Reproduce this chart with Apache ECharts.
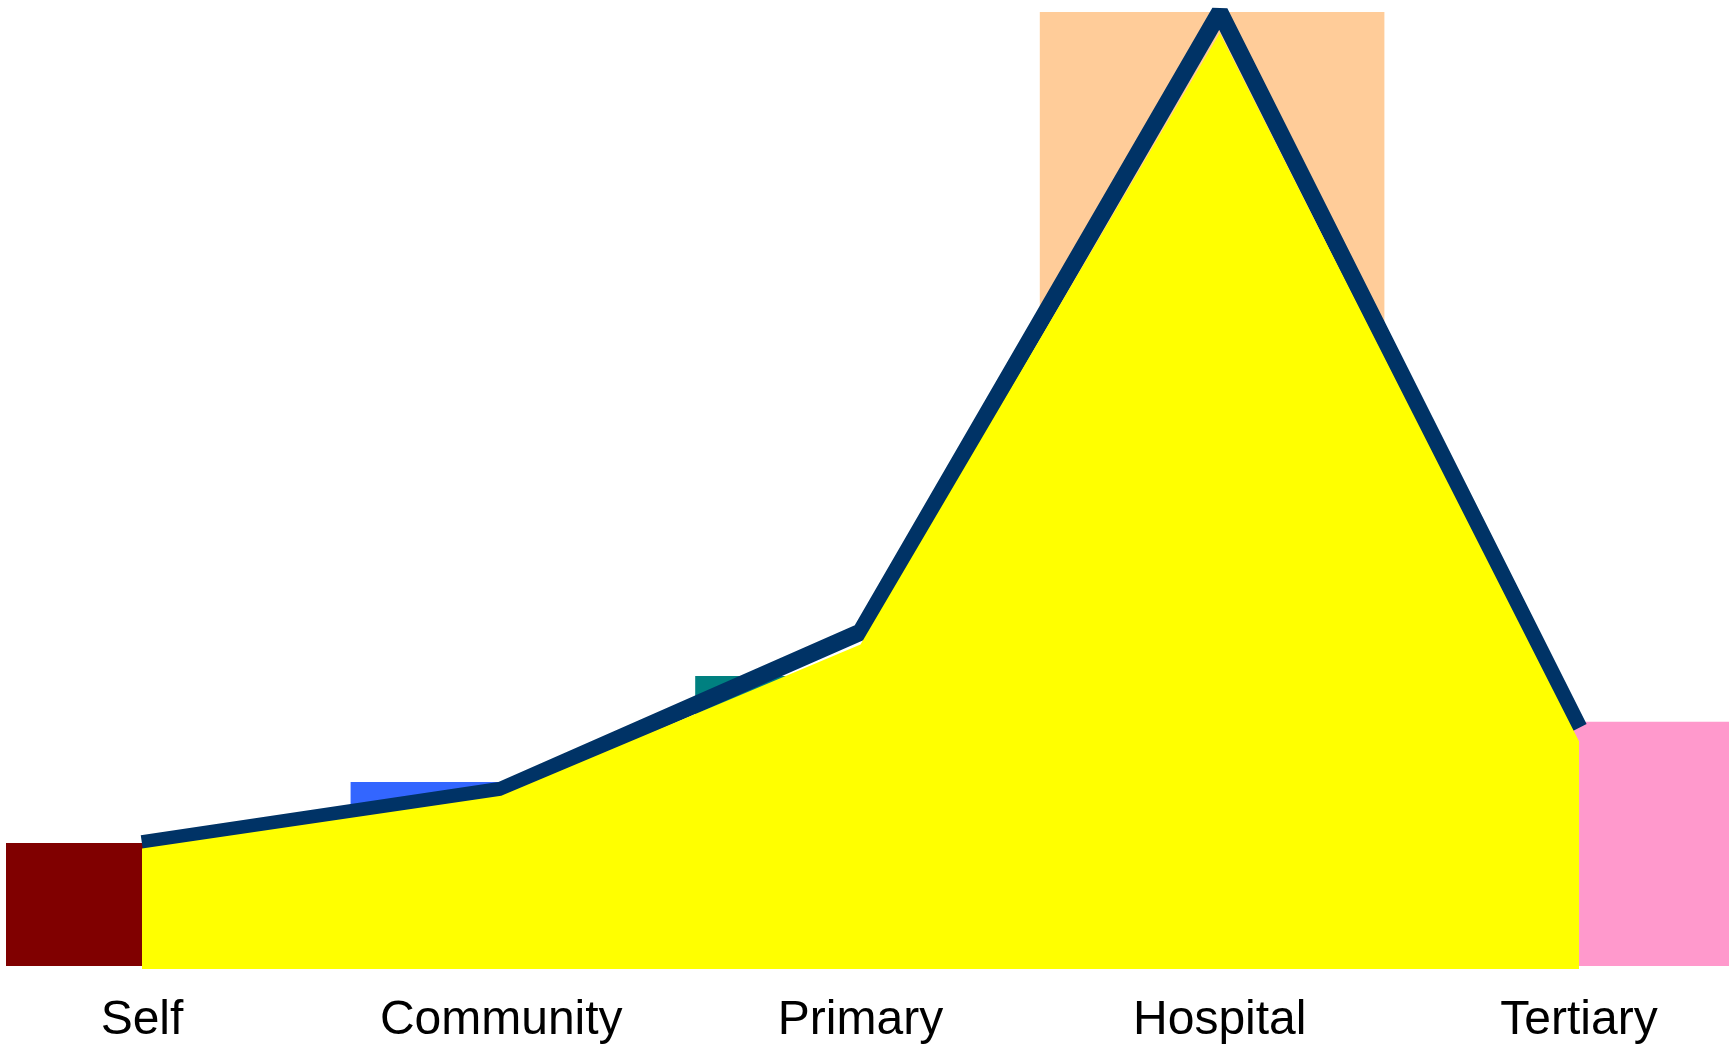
<!DOCTYPE html>
<html>
<head>
<meta charset="utf-8">
<title>Care levels</title>
<script src="https://cdn.jsdelivr.net/npm/echarts@6/dist/echarts.min.js"></script>
<style>
  html, body { margin: 0; padding: 0; background: #ffffff; }
  #chart { width: 1736px; height: 1047px; }
</style>
</head>
<body>
<div id="chart"></div>
<script>
// Levels of care, left to right
const categories = ['Self', 'Community', 'Primary', 'Hospital', 'Tertiary'];

// Block heights per level (share of the maximum, %)
const barValues = [12.9, 19.3, 30.4, 100, 25.6];
const barColors = ['#800000', '#3366FF', '#008080', '#FFCC99', '#FF99CC'];

// Outline trend drawn above the filled profile
const lineValues = [13.1, 18.7, 35.2, 100, 25.2];
const areaValues = [12.6, 18.1, 33.9, 97.8, 23.8];

const chart = echarts.init(document.getElementById('chart'), null, { renderer: 'canvas' });

chart.setOption({
  animation: false,
  backgroundColor: '#ffffff',
  grid: [
    { left: 6, right: 7, top: 12, bottom: 81 },
    { left: 142, right: 157, top: 12, bottom: 78 }
  ],
  xAxis: [
    {
      gridIndex: 0,
      type: 'category',
      data: categories,
      boundaryGap: true,
      show: false
    },
    {
      gridIndex: 1,
      type: 'category',
      data: categories,
      boundaryGap: false,
      axisLine: { show: false },
      axisTick: { show: false },
      splitLine: { show: false },
      axisLabel: {
        show: true,
        color: '#000000',
        fontSize: 48,
        fontFamily: '"Liberation Sans", Arial, sans-serif',
        margin: 28,
        interval: 0
      }
    }
  ],
  yAxis: [
    { gridIndex: 0, type: 'value', min: 0, max: 100, show: false },
    { gridIndex: 1, type: 'value', min: 0, max: 100, show: false }
  ],
  series: [
    {
      type: 'bar',
      xAxisIndex: 0,
      yAxisIndex: 0,
      barWidth: '100%',
      barGap: '0%',
      z: 1,
      data: barValues.map((v, i) => ({ value: v, itemStyle: { color: barColors[i] } }))
    },
    {
      type: 'line',
      xAxisIndex: 1,
      yAxisIndex: 1,
      data: lineValues,
      symbol: 'none',
      z: 2,
      lineStyle: { color: '#003366', width: 17, join: 'bevel', cap: 'butt' }
    },
    {
      type: 'line',
      xAxisIndex: 1,
      yAxisIndex: 1,
      data: areaValues,
      symbol: 'none',
      z: 3,
      lineStyle: { width: 0, opacity: 0 },
      areaStyle: { color: '#FFFF00', opacity: 1 }
    }
  ]
});
</script>
</body>
</html>
